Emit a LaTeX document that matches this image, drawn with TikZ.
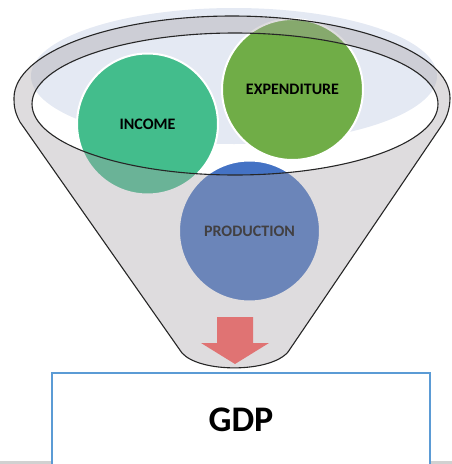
\documentclass[tikz,border=0pt]{standalone}
\usepackage{fontspec}
\setmainfont{Carlito}
\usepackage{xcolor}
\definecolor{haze}{RGB}{228,233,243}
\definecolor{funnelgray}{RGB}{170,165,170}
\definecolor{rimline}{RGB}{38,38,38}
\definecolor{incgreen}{RGB}{67,189,140}
\definecolor{expgreen}{RGB}{112,173,71}
\definecolor{prodblue}{RGB}{68,114,196}
\definecolor{pushred}{RGB}{224,115,115}
\definecolor{boxblue}{RGB}{91,155,213}
\tikzset{
  every node/.style={
    text=black
  },
  ball/.style={circle, minimum size=141pt, inner sep=0pt, draw=white, line width=2pt,
    font=\bfseries\fontsize{16}{19}\selectfont}
}

\begin{document}
\begin{tikzpicture}[x=1pt,y=-1pt]
    %\draw[gray, very thin] (0,0) grid[step=50] (452,464);
    \useasboundingbox (0,0) rectangle (452,464);
    \fill[black!18] (0,461) rectangle (452,464);
    \fill[haze] (234,76) ellipse [x radius=203, y radius=68];
    \node[ball, fill=incgreen] (income) at (147.5,124) {INCOME};
    \node[ball, fill=expgreen] (spending) at (292.5,89.5) {EXPENDITURE};
    \node[ball, fill=prodblue] (production) at (249.5,231) {PRODUCTION};
    \coordinate (rimL) at (14,98);
    \coordinate (rimR) at (450,98);
    \coordinate (sideR) at (442,125);
    \coordinate (sideL) at (20,122);
    \coordinate (neckR) at (288,352);
    \coordinate (neckL) at (182,353);
    \coordinate (mouth) at (235,104);
    \path [fill=funnelgray, fill opacity=0.39, even odd rule]
        (rimL) arc [start angle=180, end angle=360, x radius=218, y radius=82]
        .. controls (450,106) and (448,116) .. (sideR) -- (neckR)
        .. controls (270,373) and (200,373) .. (neckL) -- (sideL)
        .. controls (14,111) and (14,104) .. (rimL) -- cycle
        (mouth) ellipse [x radius=203, y radius=71];
    \fill[pushred] (217,317) -- (253,317) -- (253,343) -- (269,343) -- (235,364)
        -- (201,343) -- (217,343) -- cycle;
    \draw[rimline, line width=1.1pt, line join=round]
        (rimL) arc [start angle=180, end angle=360, x radius=218, y radius=82]
        .. controls (450,106) and (448,116) .. (sideR) -- (neckR)
        .. controls (270,373) and (200,373) .. (neckL) -- (sideL)
        .. controls (14,111) and (14,104) .. (rimL);
    \draw[rimline, line width=1.1pt] (mouth) ellipse [x radius=203, y radius=71];
    \draw[boxblue, line width=2pt, fill=white] (51.5,373) rectangle (429.5,480);
    \node[font=\bfseries\fontsize{36}{43}\selectfont] (gdp) at (241,420) {GDP};
\end{tikzpicture}
\end{document}
